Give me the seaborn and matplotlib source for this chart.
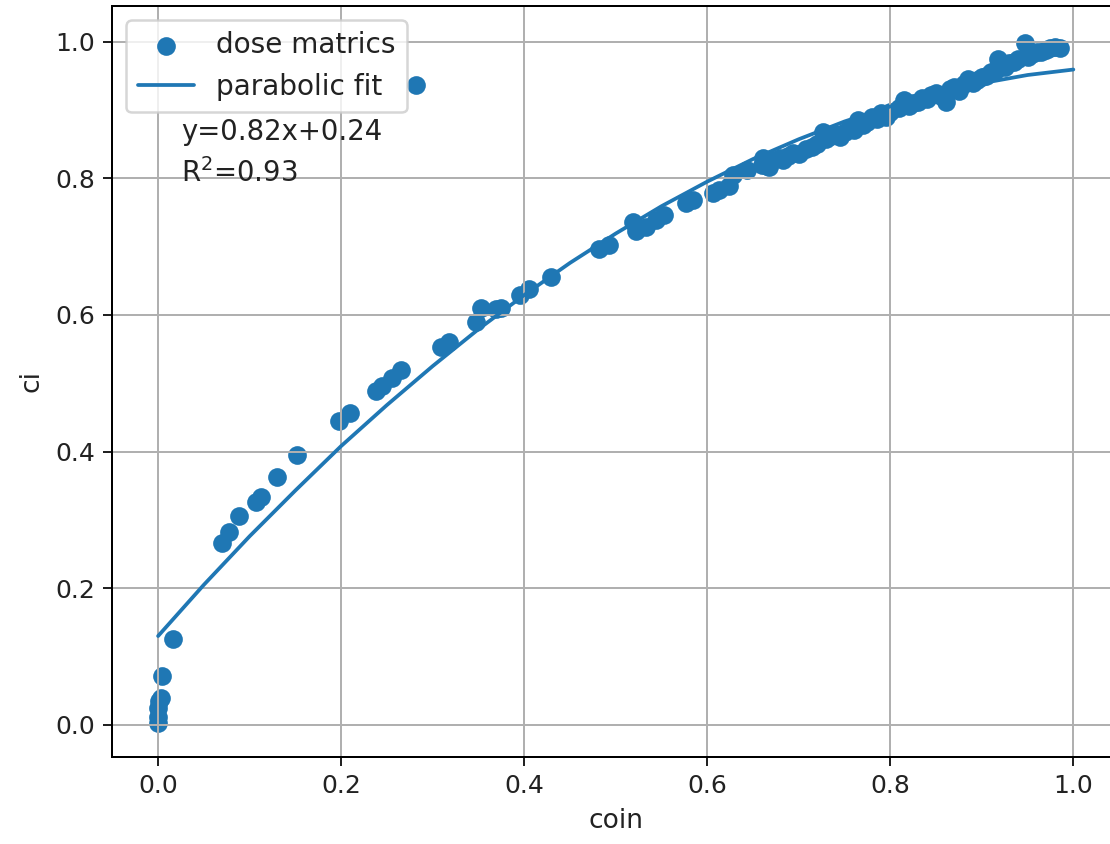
import matplotlib
matplotlib.use('Agg')
import matplotlib.pyplot as plt
import seaborn as sns
import pandas as pd

# pontok (coin, ci)
coin = [0.0, 0.0, 0.0, 0.001, 0.003, 0.004, 0.016,
        0.070, 0.077, 0.088, 0.107, 0.112, 0.130, 0.152,
        0.198, 0.210, 0.238, 0.245, 0.256, 0.265, 0.282,
        0.309, 0.318, 0.347, 0.353, 0.369, 0.375, 0.395, 0.405, 0.429,
        0.482, 0.493, 0.519, 0.522, 0.533, 0.544, 0.553,
        0.577, 0.584, 0.606, 0.613, 0.624, 0.628, 0.643, 0.661, 0.668, 0.683, 0.694,
        0.660, 0.665, 0.672, 0.680, 0.688, 0.700, 0.708, 0.715, 0.720, 0.726,
        0.730, 0.735, 0.740, 0.745, 0.750, 0.755, 0.760, 0.765, 0.770, 0.775,
        0.780, 0.785, 0.790, 0.795, 0.800, 0.810, 0.815, 0.820, 0.825, 0.830,
        0.835, 0.840, 0.845, 0.850, 0.855, 0.861, 0.865, 0.870, 0.875, 0.880,
        0.885, 0.890, 0.895, 0.900, 0.905, 0.910, 0.915, 0.918, 0.925, 0.930,
        0.935, 0.940, 0.947, 0.950, 0.955, 0.960, 0.965, 0.970, 0.975, 0.980, 0.985]
ci = [0.003, 0.012, 0.025, 0.035, 0.040, 0.072, 0.125,
      0.266, 0.282, 0.305, 0.326, 0.333, 0.363, 0.395,
      0.444, 0.456, 0.488, 0.496, 0.508, 0.519, 0.937,
      0.553, 0.560, 0.590, 0.610, 0.608, 0.610, 0.629, 0.638, 0.656,
      0.697, 0.702, 0.736, 0.722, 0.729, 0.739, 0.746,
      0.763, 0.768, 0.778, 0.783, 0.788, 0.805, 0.812, 0.829, 0.817, 0.827, 0.837,
      0.820, 0.818, 0.826, 0.829, 0.832, 0.835, 0.842, 0.846, 0.850, 0.868,
      0.858, 0.862, 0.865, 0.860, 0.868, 0.872, 0.870, 0.885, 0.878, 0.882,
      0.890, 0.886, 0.895, 0.890, 0.897, 0.903, 0.915, 0.905, 0.910, 0.912,
      0.918, 0.916, 0.922, 0.925, 0.920, 0.912, 0.930, 0.933, 0.928, 0.938,
      0.945, 0.940, 0.944, 0.948, 0.950, 0.955, 0.958, 0.975, 0.962, 0.968,
      0.970, 0.975, 0.998, 0.978, 0.982, 0.985, 0.984, 0.988, 0.990, 0.992, 0.990]

# illesztett parabola pontjai (a képről)
fit_x = [0.0, 0.05, 0.1, 0.15, 0.2, 0.25, 0.3, 0.35, 0.4, 0.45, 0.5,
         0.55, 0.6, 0.65, 0.7, 0.75, 0.8, 0.85, 0.9, 0.95, 1.0]
fit_y = [0.130, 0.205, 0.276, 0.343, 0.408, 0.468, 0.525, 0.579, 0.629, 0.676, 0.719,
         0.759, 0.795, 0.828, 0.857, 0.883, 0.905, 0.924, 0.939, 0.951, 0.959]

pontok = pd.DataFrame({'coin': coin, 'ci': ci})
illesztes = pd.DataFrame({'coin': fit_x, 'ci': fit_y})

sns.set_style('ticks', rc={'axes.axisbelow': 'line', 'axes.edgecolor': 'black',
                           'grid.color': '#b0b0b0', 'text.color': '#222222',
                           'axes.labelcolor': '#222222', 'xtick.color': '#222222',
                           'ytick.color': '#222222'})
plt.rcParams['font.family'] = ['DejaVu Sans']

fig = plt.figure(figsize=(1110 / 180, 844 / 180), dpi=180)
ax = fig.add_axes([0.1012, 0.1031, 0.907, 0.8898])

sns.scatterplot(data=pontok, x='coin', y='ci', ax=ax, color='#1f77b4', s=56,
                linewidth=0, label='dose matrics')
sns.lineplot(data=illesztes, x='coin', y='ci', ax=ax, color='#1f77b4', linewidth=1.5,
             label='parabolic fit')

ax.text(0.025, 0.856, 'y=0.82x+0.24', fontsize=11)
ax.text(0.025, 0.794, 'R$^2$=0.93', fontsize=11)

ax.set_xlim(-0.05, 1.05)
ax.set_ylim(-0.047, 1.052)
ax.set_xticks([0.0, 0.2, 0.4, 0.6, 0.8, 1.0])
ax.set_yticks([0.0, 0.2, 0.4, 0.6, 0.8, 1.0])
ax.tick_params(labelsize=10, width=0.8, length=3.5)
for s in ax.spines.values():
    s.set_linewidth(0.8)
ax.set_xlabel('coin', fontsize=10.6)
ax.set_ylabel('ci', fontsize=10.6)
ax.grid(True, linewidth=0.8)
ax.legend(loc='upper left', fontsize=11.2)

fig.savefig('out.png', dpi=180)
